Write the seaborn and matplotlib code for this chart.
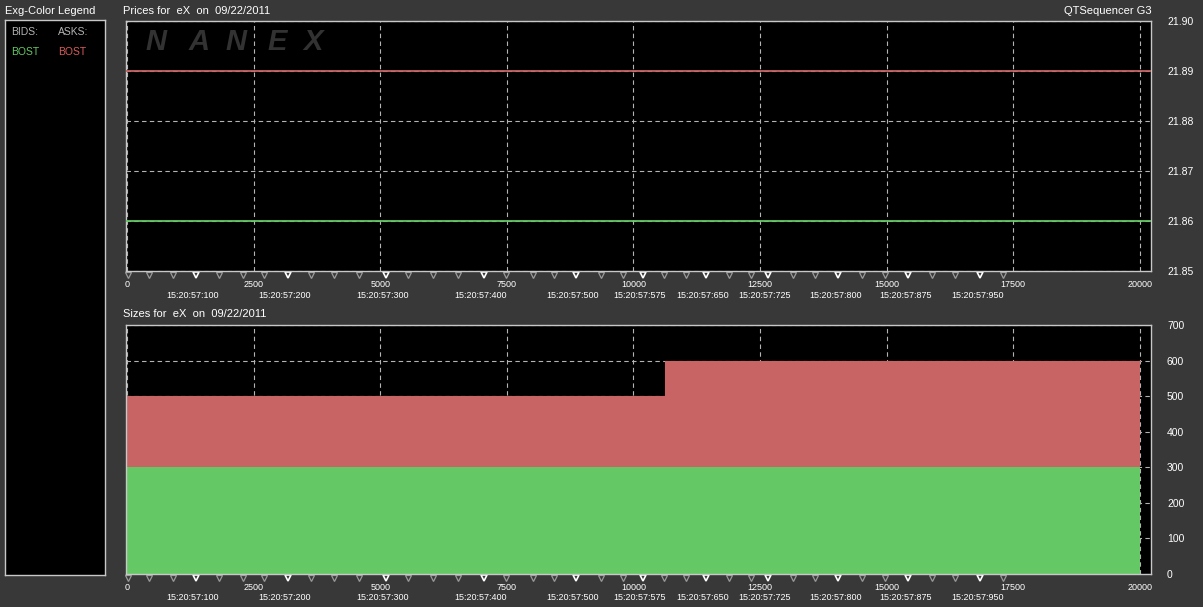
import matplotlib
matplotlib.use("Agg")
import matplotlib.pyplot as plt
import seaborn as sns

# ----------------------------------------------------------
# Data
# ----------------------------------------------------------
tick_idx = [0, 10630, 20000]
bid_size = [300, 300, 300]
ask_size = [500, 600, 600]
bid_price = 21.86
ask_price = 21.89

x_ticks = [0, 2500, 5000, 7500, 10000, 12500, 15000, 17500, 20000]
price_ticks = [21.85, 21.86, 21.87, 21.88, 21.89, 21.90]
size_ticks = [0, 100, 200, 300, 400, 500, 600, 700]

# time markers (white triangles) and their labels
time_pos = [1361, 3177, 5110, 7044, 8860, 10181, 11425, 12648, 14049, 15430, 16851]
time_labels = ["15:20:57:100", "15:20:57:200", "15:20:57:300", "15:20:57:400",
               "15:20:57:500", "15:20:57:575", "15:20:57:650", "15:20:57:725",
               "15:20:57:800", "15:20:57:875", "15:20:57:950"]
# small grey triangles in between
minor_pos = [20, 434, 908, 1815, 2289, 2703, 3631, 4085, 4578, 5545, 6038, 6531,
             7478, 8011, 8425, 9353, 9787, 10596, 11030, 11879, 12313, 13141,
             13595, 14523, 14976, 15904, 16358, 17305]

# ----------------------------------------------------------
# Style
# ----------------------------------------------------------
BG = "#383838"
GREEN = "#64c864"
RED = "#c86464"
GRID = "#b4b4b4"
BORDER = "#c8c8c8"

sns.set_theme(style="dark", rc={
    "figure.facecolor": BG,
    "axes.facecolor": "black",
    "axes.edgecolor": BORDER,
    "axes.linewidth": 1.0,
    "text.color": "white",
    "xtick.color": "white",
    "ytick.color": "white",
})
plt.rcParams["font.family"] = ["Liberation Sans", "DejaVu Sans"]

W, H = 1203, 607
fig = plt.figure(figsize=(W / 100, H / 100), dpi=100)


def px_axes(x0, y0, x1, y1):
    return fig.add_axes([x0 / W, 1 - y1 / H, (x1 - x0) / W, (y1 - y0) / H])


ax_leg = px_axes(5, 20, 105, 575)
ax_top = px_axes(126, 21, 1151, 271)
ax_bot = px_axes(126, 325, 1151, 574)

# ----------------------------------------------------------
# Legend panel
# ----------------------------------------------------------
ax_leg.set_xticks([])
ax_leg.set_yticks([])
ax_leg.set_xlim(0, 100)
ax_leg.set_ylim(-555, 0)
fig.text(5 / W, 1 - 11 / H, "Exg-Color Legend", fontsize=8, va="center", color="white")
ax_leg.text(6, -12, "BIDS:", fontsize=7.5, color="#b4b4b4", va="center")
ax_leg.text(53, -12, "ASKS:", fontsize=7.5, color="#b4b4b4", va="center")
ax_leg.text(6, -32, "BOST", fontsize=7.5, color=GREEN, va="center")
ax_leg.text(53, -32, "BOST", fontsize=7.5, color="#dc5a5a", va="center")


def style_panel(ax, yticks, ylim, fmt):
    ax.set_xlim(-20, 20220)
    ax.set_ylim(*ylim)
    ax.set_xticks(x_ticks)
    ax.set_xticklabels([str(v) for v in x_ticks], fontsize=6.5)
    ax.set_yticks(yticks)
    ax.set_yticklabels([fmt(v) for v in yticks], fontsize=7.5)
    ax.yaxis.tick_right()
    ax.tick_params(axis="x", length=0, pad=6.5)
    ax.tick_params(axis="y", length=0, pad=11.5)
    ax.grid(True, color=GRID, linestyle=(0, (4, 3)), linewidth=0.8)
    ax.set_axisbelow(True)
    tr = ax.get_xaxis_transform()
    ax.plot(minor_pos, [-0.016] * len(minor_pos), linestyle="none", marker="v",
            markersize=5, markerfacecolor=BG, markeredgecolor="#9a9a9a",
            markeredgewidth=0.9, transform=tr, clip_on=False)
    ax.plot(time_pos, [-0.016] * len(time_pos), linestyle="none", marker="v",
            markersize=5, markerfacecolor=BG, markeredgecolor="white",
            markeredgewidth=1.2, transform=tr, clip_on=False)
    for p, lab in zip(time_pos, time_labels):
        ax.text(p - 60, -0.096, lab, transform=tr, ha="center", va="center",
                fontsize=6.5, color="white")
    for s in ax.spines.values():
        s.set_color(BORDER)


# ----------------------------------------------------------
# Prices panel
# ----------------------------------------------------------
style_panel(ax_top, price_ticks, (21.85, 21.90), lambda v: f"{v:.2f}")
ax_top.axhline(ask_price, color=RED, linewidth=1.3, zorder=3)
ax_top.axhline(bid_price, color=GREEN, linewidth=1.3, zorder=3)

# NANEX watermark, one letter at a time (wide letter spacing)
for cx, letter in zip([156, 199, 236, 277, 313], "NANEX"):
    fig.text(cx / W, 1 - 42 / H, letter, fontsize=21, style="italic",
             weight="bold", color="#323232", ha="center", va="center")

fig.text(123 / W, 1 - 11 / H, "Prices for  eX  on  09/22/2011", fontsize=8, va="center")
fig.text(1152 / W, 1 - 11 / H, "QTSequencer G3", fontsize=8, va="center", ha="right")

# ----------------------------------------------------------
# Sizes panel
# ----------------------------------------------------------
style_panel(ax_bot, size_ticks, (0, 700), lambda v: str(v))
ax_bot.fill_between(tick_idx, ask_size, step="post", color=RED, linewidth=0, zorder=2)
ax_bot.fill_between(tick_idx, bid_size, step="post", color=GREEN, linewidth=0, zorder=2)
sns.lineplot(x=tick_idx, y=ask_size, drawstyle="steps-post", color=RED,
             linewidth=0.8, ax=ax_bot, zorder=2)
fig.text(123 / W, 1 - 314 / H, "Sizes for  eX  on  09/22/2011", fontsize=8, va="center")

fig.savefig("out.png", dpi=100, facecolor=BG)
